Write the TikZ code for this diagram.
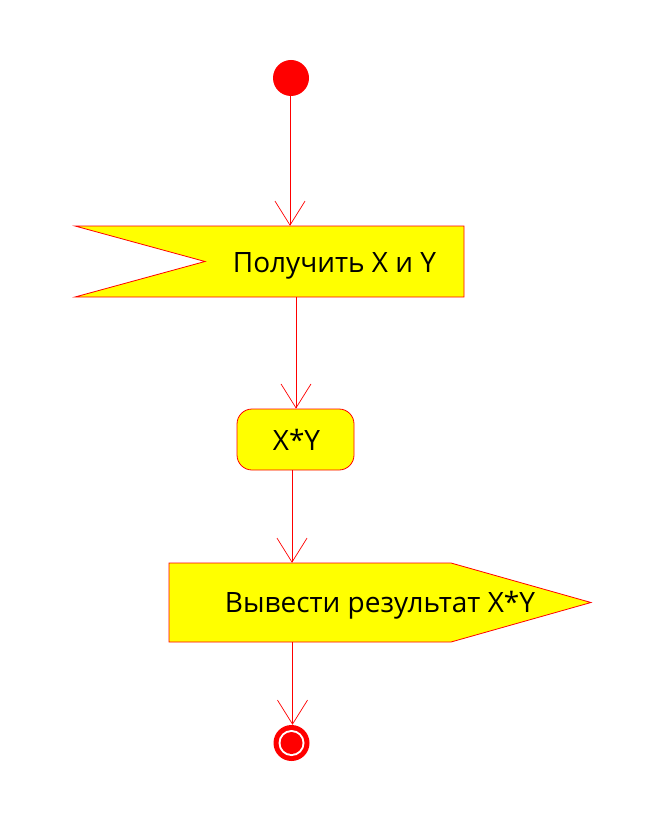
\documentclass[tikz,border=0pt]{standalone}
\usepackage{fontspec}
\setmainfont{Open Sans}
\usetikzlibrary{arrows.meta}
\definecolor{umlred}{RGB}{255,0,0}
\definecolor{umlyellow}{RGB}{255,255,0}
\begin{document}
\begin{tikzpicture}[x=1pt,y=1pt,
  flow/.style={draw=umlred, line width=0.7pt, -{Straight Barb[length=24pt,width=30pt,line width=0.7pt]}},
  shapeline/.style={draw=umlred, fill=umlyellow, line width=0.8pt},
  label/.style={font=\fontsize{28}{32}\selectfont, text=black, inner sep=0pt, anchor=base}]
\useasboundingbox (0,0) rectangle (653,-826);
\fill[white] (0,0) rectangle (653,-826);

% initial state
\node[circle, fill=umlred, minimum size=36pt, inner sep=0pt] (start) at (291,-78) {};

% receive signal: flag with a notch on the left
\path[shapeline] (75,-226) -- (464,-226) -- (464,-297) -- (75,-297) -- (205,-261.5) -- cycle;
\node[minimum width=389pt, minimum height=71pt, inner sep=0pt] (recv) at (269.5,-261.5) {};
\node[label] (recvtext) at (334.5,-272) {Получить X и Y};

% action
\node[shapeline, rectangle, rounded corners=15pt,
      minimum width=117pt, minimum height=61pt, inner sep=0pt] (act) at (295.5,-439.5) {};
\node[label] (acttext) at (296.5,-450) {X*Y};

% send signal: pentagon pointing right
\path[shapeline] (169,-563) -- (451,-563) -- (591,-602.5) -- (451,-642) -- (169,-642) -- cycle;
\node[minimum width=422pt, minimum height=79pt, inner sep=0pt] (send) at (380,-602.5) {};
\node[label] (sendtext) at (380,-612) {Вывести результат X*Y};

% final state
\node[circle, fill=umlred, minimum size=36pt, inner sep=0pt] (stop) at (291.5,-743) {};
\fill[white] (stop.center) circle (13pt);
\fill[umlred] (stop.center) circle (11pt);

% control flow
\draw[flow] (start.south -| 290,0) -- (290,0 |- recv.north);
\draw[flow] (296,0 |- recv.south) -- (296,0 |- act.north);
\draw[flow] (292,0 |- act.south) -- (292,0 |- send.north);
\draw[flow] (292.5,0 |- send.south) -- (292.5,0 |- stop.north);
\end{tikzpicture}
\end{document}
